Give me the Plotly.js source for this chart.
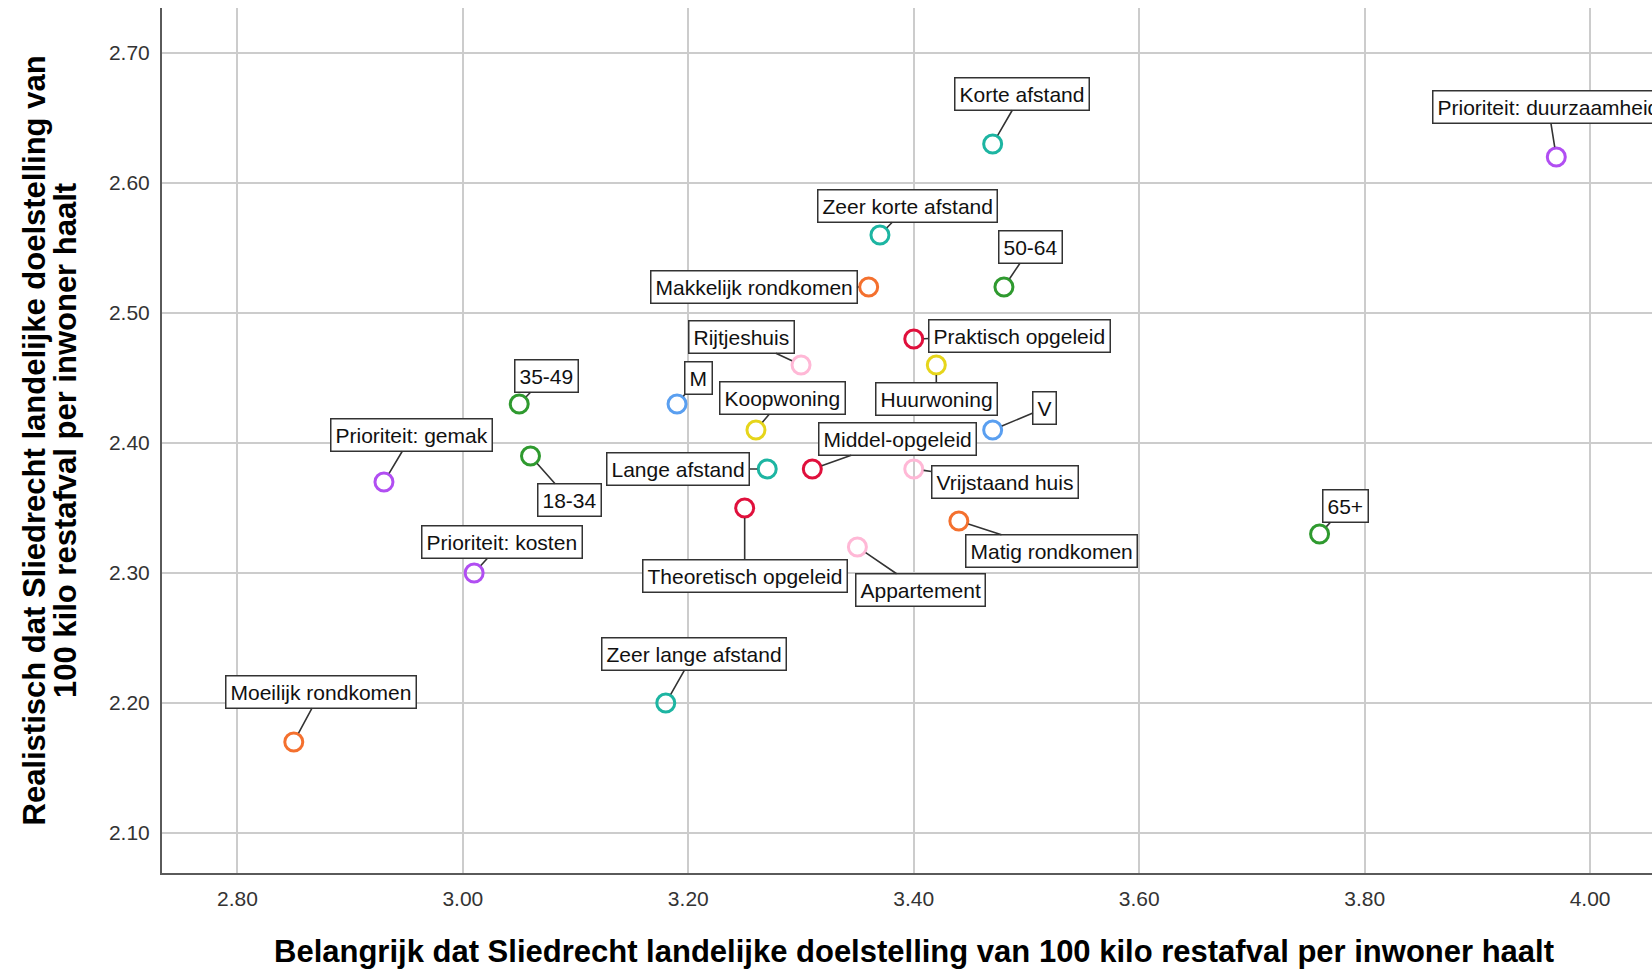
<!DOCTYPE html>
<html>
<head>
<meta charset="utf-8">
<script src="https://cdn.plot.ly/plotly-3.0.1.min.js"></script>
<style>
  html, body { margin: 0; padding: 0; background: #ffffff; }
  #chart { width: 1652px; height: 973px; }
</style>
</head>
<body>
<div id="chart"></div>
<script>
// ---- data ----
const labels = ["Korte afstand", "Prioriteit: duurzaamheid", "Zeer korte afstand", "50-64",
  "Makkelijk rondkomen", "Praktisch opgeleid", "Huurwoning", "Rijtjeshuis", "35-49", "M",
  "Koopwoning", "V", "Middel-opgeleid", "18-34", "Prioriteit: gemak", "Lange afstand",
  "Vrijstaand huis", "Theoretisch opgeleid", "Matig rondkomen", "65+", "Appartement",
  "Prioriteit: kosten", "Zeer lange afstand", "Moeilijk rondkomen"];
const belangrijk = [3.47, 3.97, 3.37, 3.48, 3.36, 3.40, 3.42, 3.30, 3.05, 3.19, 3.26, 3.47,
  3.31, 3.06, 2.93, 3.27, 3.40, 3.25, 3.44, 3.76, 3.35, 3.01, 3.18, 2.85];
const realistisch = [2.63, 2.62, 2.56, 2.52, 2.52, 2.48, 2.46, 2.46, 2.43, 2.43, 2.41, 2.41,
  2.38, 2.39, 2.37, 2.38, 2.38, 2.35, 2.34, 2.33, 2.32, 2.30, 2.20, 2.17];
const groep = ["afstand", "prioriteit", "afstand", "leeftijd", "rondkomen", "opleiding",
  "eigendom", "woningtype", "leeftijd", "geslacht", "eigendom", "geslacht", "opleiding",
  "leeftijd", "prioriteit", "afstand", "woningtype", "opleiding", "rondkomen", "leeftijd",
  "woningtype", "prioriteit", "afstand", "rondkomen"];
const xTickVals = [2.8, 3.0, 3.2, 3.4, 3.6, 3.8, 4.0];
const yTickVals = [2.1, 2.2, 2.3, 2.4, 2.5, 2.6, 2.7];
const xTitle = "Belangrijk dat Sliedrecht landelijke doelstelling van 100 kilo restafval per inwoner haalt";
const yTitleLines = ["Realistisch dat Sliedrecht landelijke doelstelling van", "100 kilo restafval per inwoner haalt"];

// ---- styling ----
const groupColors = {
  afstand: "#1db5a2", rondkomen: "#f4702e", leeftijd: "#2f9a2f", opleiding: "#e0103c",
  woningtype: "#ffb8d6", eigendom: "#e6d51a", geslacht: "#5a9ff0", prioriteit: "#b14ef2"
};
// label box offsets (pixels, relative to the point)
const labelOffsets = [[29,-50],[-8,-50],[28,-29],[27,-40],[-115,0],[106,-3],[0,34],[-60,-28],
  [27,-28],[21,-26],[27,-32],[52,-22],[85,-30],[39,44],[28,-47],[-89,0],[91,13],[0,68],
  [93,30],[26,-28],[63,43],[28,-31],[28,-49],[27,-50]];

const FONT = "Liberation Sans, Arial, sans-serif";
const groupOrder = ["afstand","rondkomen","leeftijd","opleiding","woningtype","eigendom","geslacht","prioriteit"];
const traces = groupOrder.map(g => {
  const idx = groep.map((v,i) => v === g ? i : -1).filter(i => i >= 0);
  return {
    type: "scatter", mode: "markers", name: g,
    x: idx.map(i => belangrijk[i]), y: idx.map(i => realistisch[i]),
    text: idx.map(i => labels[i]),
    marker: { symbol: "circle-open", size: 18, color: groupColors[g], line: { width: 3, color: groupColors[g] } },
    cliponaxis: false,
    hoverinfo: "text+x+y"
  };
});

const annotations = labels.map((lab, i) => ({
  x: belangrijk[i], y: realistisch[i], xref: "x", yref: "y",
  text: lab, showarrow: true, arrowhead: 0, arrowwidth: 1.6, arrowcolor: "#333333",
  ax: labelOffsets[i][0], ay: labelOffsets[i][1], standoff: 10, startstandoff: 0,
  bgcolor: "#ffffff", bordercolor: "#333333", borderwidth: 1.5, borderpad: 4,
  font: { family: FONT, size: 21, color: "#111111" }
}));

const plotL = 162, plotT = 8, plotB = 873, W = 1652;
const plotW = W - plotL, plotH = plotB - plotT;
const yCenters = [33.5, 65];
yTitleLines.forEach((t, k) => {
  annotations.push({
    xref: "paper", yref: "paper", x: (yCenters[k] - plotL) / plotW, y: (plotB - 441) / plotH,
    xanchor: "center", yanchor: "middle", textangle: -90, showarrow: false, text: t,
    font: { family: FONT, size: 31, color: "#000000", weight: "bold" }
  });
});
annotations.push({
  xref: "paper", yref: "paper", x: (914 - plotL) / plotW, y: (plotB - 952) / plotH,
  xanchor: "center", yanchor: "middle", showarrow: false, text: xTitle,
  font: { family: FONT, size: 31, color: "#000000", weight: "bold" }
});

const layout = {
  width: 1652, height: 973,
  margin: { l: plotL, r: 0, t: plotT, b: 973 - plotB, pad: 0 },
  paper_bgcolor: "#ffffff", plot_bgcolor: "#ffffff",
  showlegend: false,
  font: { family: FONT },
  xaxis: {
    range: [2.7331, 4.0549], tickvals: xTickVals, tickformat: ".2f",
    showgrid: true, gridcolor: "#cccccc", gridwidth: 2,
    showline: true, linecolor: "#5a5a5a", linewidth: 2, mirror: false,
    zeroline: false, ticks: "", ticklabelstandoff: 6,
    tickfont: { family: FONT, size: 21, color: "#333333" }
  },
  yaxis: {
    range: [2.0692, 2.7346], tickvals: yTickVals, tickformat: ".2f",
    showgrid: true, gridcolor: "#cccccc", gridwidth: 2,
    showline: true, linecolor: "#5a5a5a", linewidth: 2, mirror: false,
    zeroline: false, ticks: "", ticklabelstandoff: 6,
    tickfont: { family: FONT, size: 21, color: "#333333" }
  },
  annotations: annotations
};

Plotly.newPlot("chart", traces, layout, { displayModeBar: false, staticPlot: true });
</script>
</body>
</html>
